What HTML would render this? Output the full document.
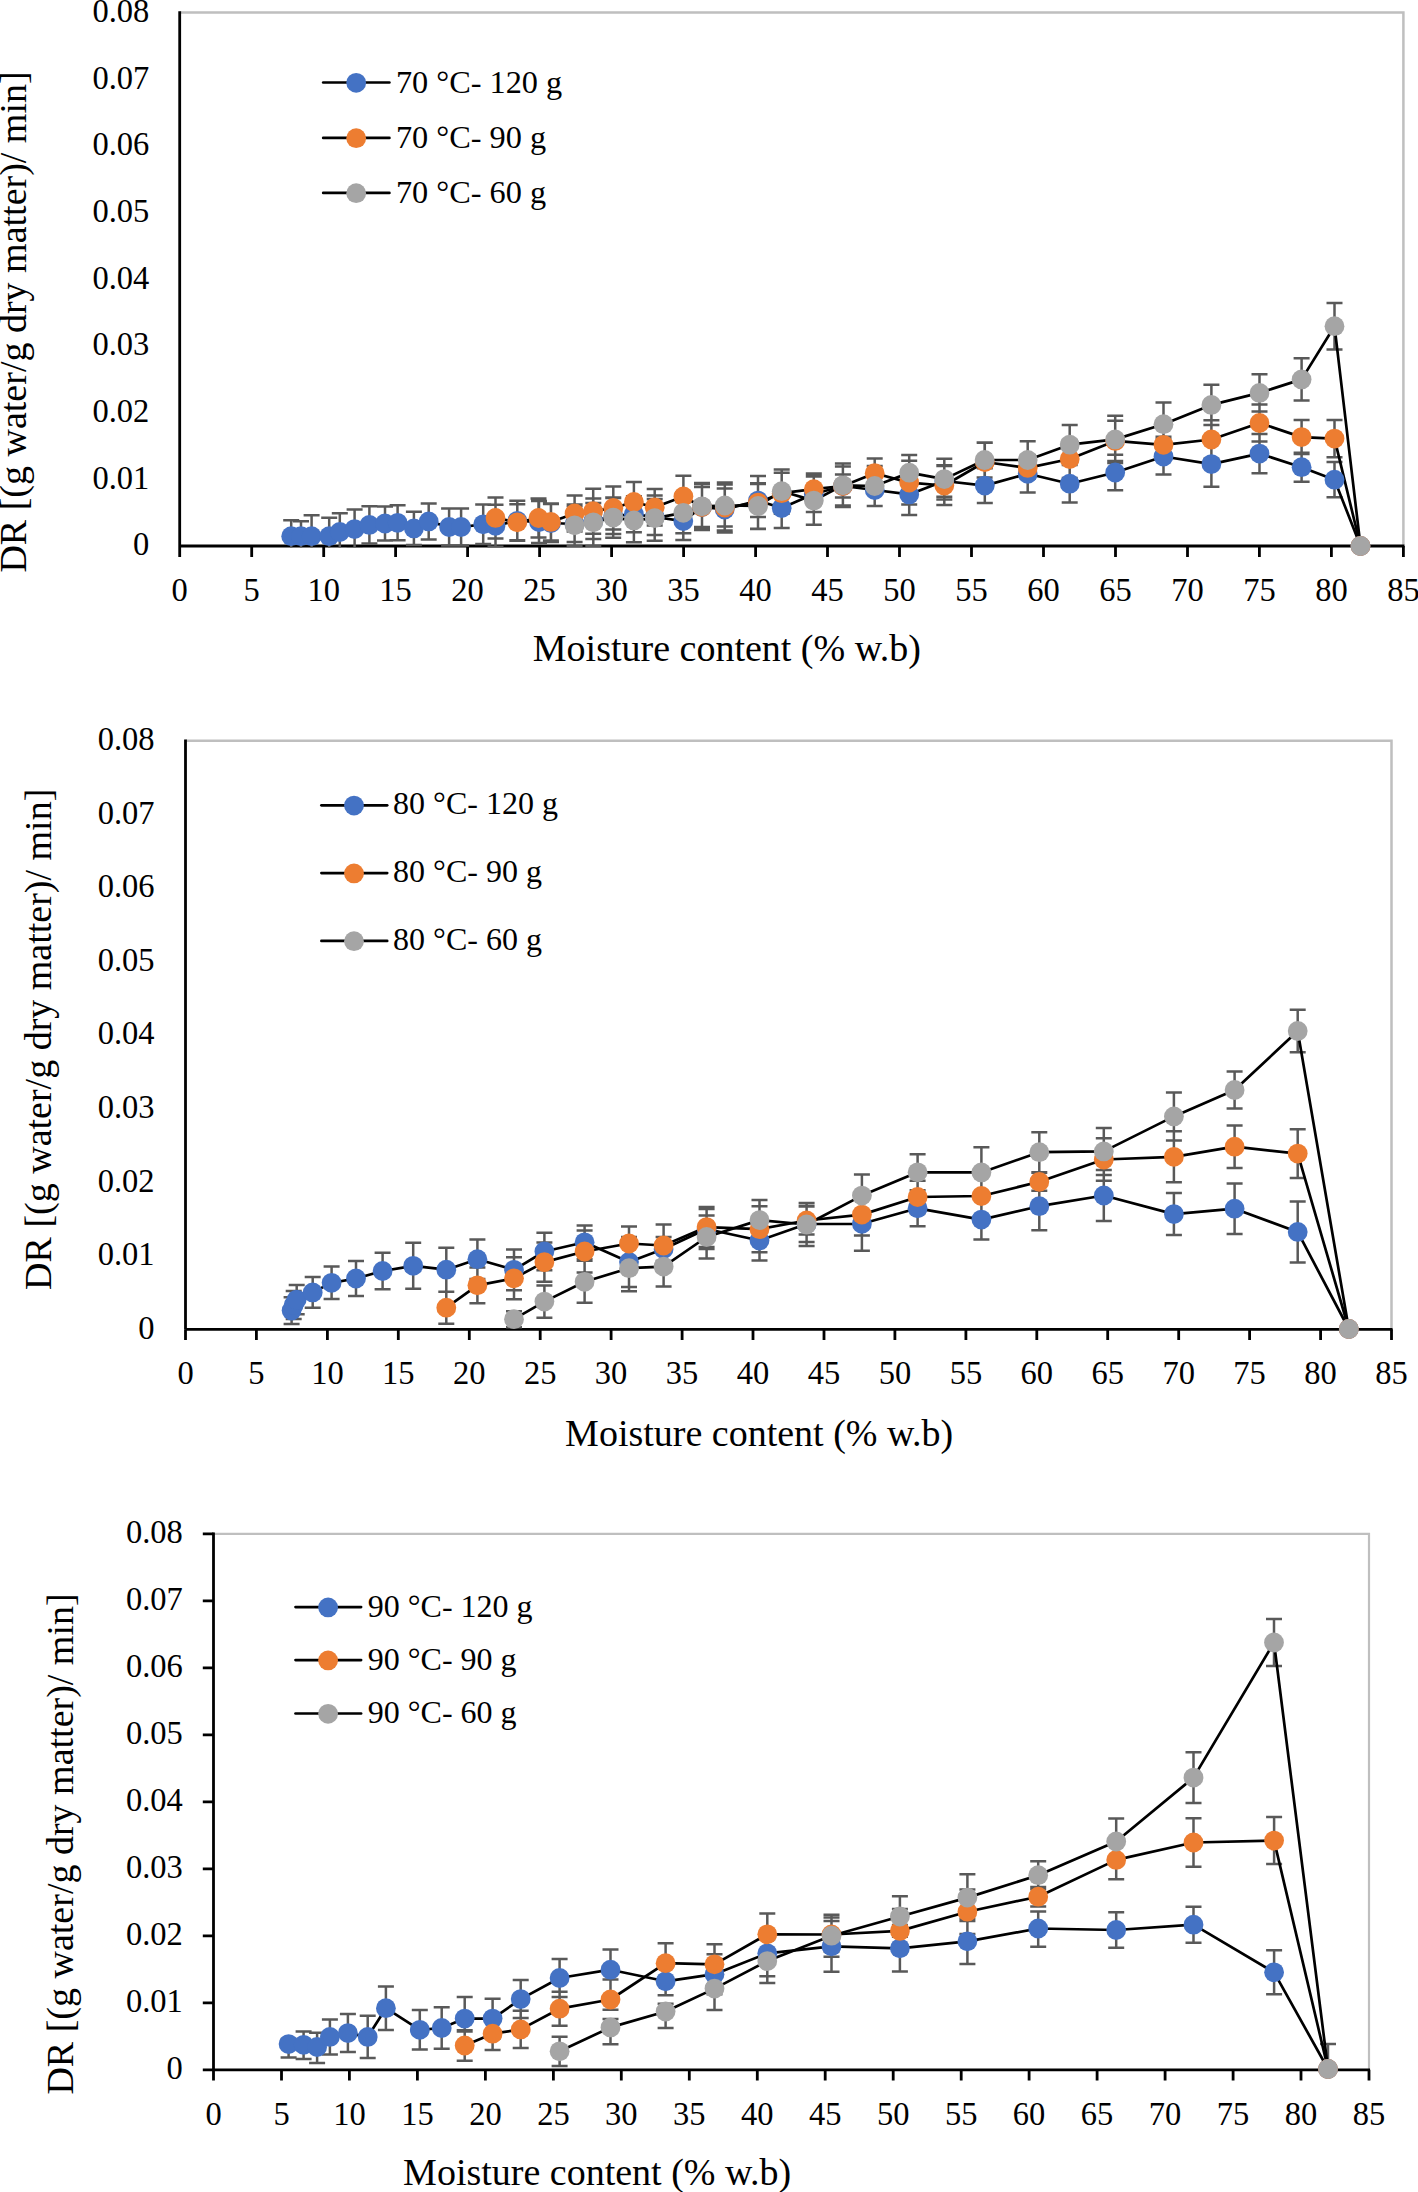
<!DOCTYPE html>
<html><head><meta charset="utf-8"><style>
html,body{margin:0;padding:0;background:#fff;}
svg{display:block;}
text{font-family:'Liberation Serif', serif;fill:#000;}
</style></head><body>
<svg width="1418" height="2192" viewBox="0 0 1418 2192">
<rect width="1418" height="2192" fill="#fff"/>
<path d="M179.7,12.5 H1403.4 V546.0" fill="none" stroke="#bfbfbf" stroke-width="2.5"/>
<path d="M179.7,11.3 V546.0" stroke="#000" stroke-width="2.8" fill="none"/>
<path d="M179.7,546.0 H1404.4" stroke="#000" stroke-width="2.8" fill="none"/>
<path d="M179.7,546.0v11M251.7,546.0v11M323.7,546.0v11M395.6,546.0v11M467.6,546.0v11M539.6,546.0v11M611.6,546.0v11M683.6,546.0v11M755.6,546.0v11M827.5,546.0v11M899.5,546.0v11M971.5,546.0v11M1043.5,546.0v11M1115.5,546.0v11M1187.5,546.0v11M1259.4,546.0v11M1331.4,546.0v11M1403.4,546.0v11" stroke="#000" stroke-width="2.8" fill="none"/>
<clipPath id="c1clip"><rect x="179.7" y="12.5" width="1223.7" height="534.9"/></clipPath>
<path clip-path="url(#c1clip)" d="M291.2,520.2V552.2M283.2,520.2h16M283.2,552.2h16M301.0,521.2V551.2M293.0,521.2h16M293.0,551.2h16M311.6,515.2V557.2M303.6,515.2h16M303.6,557.2h16M329.2,517.8V554.6M321.2,517.8h16M321.2,554.6h16M339.8,513.3V550.7M331.8,513.3h16M331.8,550.7h16M354.6,509.6V548.6M346.6,509.6h16M346.6,548.6h16M369.4,506.2V543.6M361.4,506.2h16M361.4,543.6h16M385.0,506.5V540.5M377.0,506.5h16M377.0,540.5h16M397.6,505.3V540.3M389.6,505.3h16M389.6,540.3h16M413.9,511.7V545.1M405.9,511.7h16M405.9,545.1h16M428.7,503.4V539.4M420.7,503.4h16M420.7,539.4h16M449.1,508.4V545.6M441.1,508.4h16M441.1,545.6h16M461.1,508.4V545.6M453.1,508.4h16M453.1,545.6h16M483.2,504.5V544.1M475.2,504.5h16M475.2,544.1h16M495.5,504.8V546.8M487.5,504.8h16M487.5,546.8h16M517.3,500.8V540.8M509.3,500.8h16M509.3,540.8h16M539.0,501.0V543.0M531.0,501.0h16M531.0,543.0h16M551.0,504.0V542.0M543.0,504.0h16M543.0,542.0h16M574.6,506.0V542.0M566.6,506.0h16M566.6,542.0h16M593.3,503.0V539.0M585.3,503.0h16M585.3,539.0h16M613.3,498.0V534.0M605.3,498.0h16M605.3,534.0h16M633.9,496.2V532.2M625.9,496.2h16M625.9,532.2h16M654.7,499.0V535.0M646.7,499.0h16M646.7,535.0h16M683.3,502.1V540.1M675.3,502.1h16M675.3,540.1h16M702.0,487.0V527.0M694.0,487.0h16M694.0,527.0h16M724.7,488.5V530.5M716.7,488.5h16M716.7,530.5h16M758.0,484.1V517.1M750.0,484.1h16M750.0,517.1h16M781.7,488.0V528.0M773.7,488.0h16M773.7,528.0h16M813.8,476.0V512.0M805.8,476.0h16M805.8,512.0h16M842.9,474.5V497.5M834.9,474.5h16M834.9,497.5h16M874.7,474.0V506.0M866.7,474.0h16M866.7,506.0h16M909.2,473.7V515.1M901.2,473.7h16M901.2,515.1h16M944.3,465.2V496.8M936.3,465.2h16M936.3,496.8h16M984.8,468.3V502.9M976.8,468.3h16M976.8,502.9h16M1027.7,455.1V492.5M1019.7,455.1h16M1019.7,492.5h16M1069.7,465.0V502.4M1061.7,465.0h16M1061.7,502.4h16M1115.2,454.7V490.3M1107.2,454.7h16M1107.2,490.3h16M1163.5,438.5V474.5M1155.5,438.5h16M1155.5,474.5h16M1211.4,441.4V486.8M1203.4,441.4h16M1203.4,486.8h16M1259.5,434.0V473.2M1251.5,434.0h16M1251.5,473.2h16M1301.6,452.7V481.7M1293.6,452.7h16M1293.6,481.7h16M1334.5,462.1V497.3M1326.5,462.1h16M1326.5,497.3h16M495.5,497.4V538.4M487.5,497.4h16M487.5,538.4h16M517.3,504.3V540.3M509.3,504.3h16M509.3,540.3h16M538.5,498.5V537.5M530.5,498.5h16M530.5,537.5h16M550.9,503.4V540.4M542.9,503.4h16M542.9,540.4h16M574.6,495.4V531.4M566.6,495.4h16M566.6,531.4h16M593.2,488.7V533.7M585.2,488.7h16M585.2,533.7h16M613.3,486.5V529.5M605.3,486.5h16M605.3,529.5h16M633.9,482.0V522.0M625.9,482.0h16M625.9,522.0h16M654.7,489.0V525.6M646.7,489.0h16M646.7,525.6h16M683.4,475.7V517.1M675.4,475.7h16M675.4,517.1h16M702.0,484.0V530.0M694.0,484.0h16M694.0,530.0h16M724.8,482.5V532.5M716.8,482.5h16M716.8,532.5h16M758.0,476.1V529.1M750.0,476.1h16M750.0,529.1h16M781.7,472.7V513.7M773.7,472.7h16M773.7,513.7h16M813.8,473.4V505.0M805.8,473.4h16M805.8,505.0h16M842.9,466.5V505.5M834.9,466.5h16M834.9,505.5h16M874.7,458.4V488.0M866.7,458.4h16M866.7,488.0h16M909.2,460.8V504.4M901.2,460.8h16M901.2,504.4h16M944.3,466.0V505.0M936.3,466.0h16M936.3,505.0h16M984.8,442.7V481.3M976.8,442.7h16M976.8,481.3h16M1027.7,457.9V477.9M1019.7,457.9h16M1019.7,477.9h16M1069.7,440.0V478.0M1061.7,440.0h16M1061.7,478.0h16M1115.2,420.7V461.1M1107.2,420.7h16M1107.2,461.1h16M1163.5,436.8V452.8M1155.5,436.8h16M1155.5,452.8h16M1211.4,420.2V458.8M1203.4,420.2h16M1203.4,458.8h16M1259.5,404.4V441.6M1251.5,404.4h16M1251.5,441.6h16M1301.6,420.1V454.1M1293.6,420.1h16M1293.6,454.1h16M1334.5,420.0V457.2M1326.5,420.0h16M1326.5,457.2h16M574.6,504.5V546.1M566.6,504.5h16M566.6,546.1h16M593.3,498.6V546.0M585.3,498.6h16M585.3,546.0h16M613.2,497.4V537.8M605.2,497.4h16M605.2,537.8h16M633.9,498.5V542.3M625.9,498.5h16M625.9,542.3h16M654.7,495.4V540.8M646.7,495.4h16M646.7,540.8h16M683.3,492.3V533.3M675.3,492.3h16M675.3,533.3h16M702.0,483.0V529.6M694.0,483.0h16M694.0,529.6h16M724.8,484.5V526.5M716.8,484.5h16M716.8,526.5h16M758.0,483.3V528.7M750.0,483.3h16M750.0,528.7h16M781.7,469.5V512.9M773.7,469.5h16M773.7,512.9h16M813.8,476.4V524.8M805.8,476.4h16M805.8,524.8h16M842.9,463.6V507.0M834.9,463.6h16M834.9,507.0h16M874.7,466.0V506.0M866.7,466.0h16M866.7,506.0h16M909.2,454.9V490.5M901.2,454.9h16M901.2,490.5h16M944.3,458.7V499.5M936.3,458.7h16M936.3,499.5h16M984.6,442.6V477.4M976.6,442.6h16M976.6,477.4h16M1027.7,441.2V478.8M1019.7,441.2h16M1019.7,478.8h16M1069.7,424.9V464.5M1061.7,424.9h16M1061.7,464.5h16M1115.2,415.8V463.0M1107.2,415.8h16M1107.2,463.0h16M1163.5,402.6V445.8M1155.5,402.6h16M1155.5,445.8h16M1211.4,384.7V425.1M1203.4,384.7h16M1203.4,425.1h16M1259.5,374.3V411.5M1251.5,374.3h16M1251.5,411.5h16M1301.6,358.3V400.5M1293.6,358.3h16M1293.6,400.5h16M1334.5,302.9V349.5M1326.5,302.9h16M1326.5,349.5h16" fill="none" stroke="#595959" stroke-width="2.5"/>
<polyline points="291.2,536.2 301.0,536.2 311.6,536.2 329.2,536.2 339.8,532.0 354.6,529.1 369.4,524.9 385.0,523.5 397.6,522.8 413.9,528.4 428.7,521.4 449.1,527.0 461.1,527.0 483.2,524.3 495.5,525.8 517.3,520.8 539.0,522.0 551.0,523.0 574.6,524.0 593.3,521.0 613.3,516.0 633.9,514.2 654.7,517.0 683.3,521.1 702.0,507.0 724.7,509.5 758.0,500.6 781.7,508.0 813.8,494.0 842.9,486.0 874.7,490.0 909.2,494.4 944.3,481.0 984.8,485.6 1027.7,473.8 1069.7,483.7 1115.2,472.5 1163.5,456.5 1211.4,464.1 1259.5,453.6 1301.6,467.2 1334.5,479.7 1360.5,546.0" fill="none" stroke="#000" stroke-width="2.7" stroke-linejoin="round" stroke-linecap="round"/>
<polyline points="495.5,517.9 517.3,522.3 538.5,518.0 550.9,521.9 574.6,513.4 593.2,511.2 613.3,508.0 633.9,502.0 654.7,507.3 683.4,496.4 702.0,507.0 724.8,507.5 758.0,502.6 781.7,493.2 813.8,489.2 842.9,486.0 874.7,473.2 909.2,482.6 944.3,485.5 984.8,462.0 1027.7,467.9 1069.7,459.0 1115.2,440.9 1163.5,444.8 1211.4,439.5 1259.5,423.0 1301.6,437.1 1334.5,438.6 1360.5,546.0" fill="none" stroke="#000" stroke-width="2.7" stroke-linejoin="round" stroke-linecap="round"/>
<polyline points="574.6,525.3 593.3,522.3 613.2,517.6 633.9,520.4 654.7,518.1 683.3,512.8 702.0,506.3 724.8,505.5 758.0,506.0 781.7,491.2 813.8,500.6 842.9,485.3 874.7,486.0 909.2,472.7 944.3,479.1 984.6,460.0 1027.7,460.0 1069.7,444.7 1115.2,439.4 1163.5,424.2 1211.4,404.9 1259.5,392.9 1301.6,379.4 1334.5,326.2 1360.5,546.0" fill="none" stroke="#000" stroke-width="2.7" stroke-linejoin="round" stroke-linecap="round"/>
<g fill="#4472c4"><circle cx="291.2" cy="536.2" r="9.9"/><circle cx="301.0" cy="536.2" r="9.9"/><circle cx="311.6" cy="536.2" r="9.9"/><circle cx="329.2" cy="536.2" r="9.9"/><circle cx="339.8" cy="532.0" r="9.9"/><circle cx="354.6" cy="529.1" r="9.9"/><circle cx="369.4" cy="524.9" r="9.9"/><circle cx="385.0" cy="523.5" r="9.9"/><circle cx="397.6" cy="522.8" r="9.9"/><circle cx="413.9" cy="528.4" r="9.9"/><circle cx="428.7" cy="521.4" r="9.9"/><circle cx="449.1" cy="527.0" r="9.9"/><circle cx="461.1" cy="527.0" r="9.9"/><circle cx="483.2" cy="524.3" r="9.9"/><circle cx="495.5" cy="525.8" r="9.9"/><circle cx="517.3" cy="520.8" r="9.9"/><circle cx="539.0" cy="522.0" r="9.9"/><circle cx="551.0" cy="523.0" r="9.9"/><circle cx="574.6" cy="524.0" r="9.9"/><circle cx="593.3" cy="521.0" r="9.9"/><circle cx="613.3" cy="516.0" r="9.9"/><circle cx="633.9" cy="514.2" r="9.9"/><circle cx="654.7" cy="517.0" r="9.9"/><circle cx="683.3" cy="521.1" r="9.9"/><circle cx="702.0" cy="507.0" r="9.9"/><circle cx="724.7" cy="509.5" r="9.9"/><circle cx="758.0" cy="500.6" r="9.9"/><circle cx="781.7" cy="508.0" r="9.9"/><circle cx="813.8" cy="494.0" r="9.9"/><circle cx="842.9" cy="486.0" r="9.9"/><circle cx="874.7" cy="490.0" r="9.9"/><circle cx="909.2" cy="494.4" r="9.9"/><circle cx="944.3" cy="481.0" r="9.9"/><circle cx="984.8" cy="485.6" r="9.9"/><circle cx="1027.7" cy="473.8" r="9.9"/><circle cx="1069.7" cy="483.7" r="9.9"/><circle cx="1115.2" cy="472.5" r="9.9"/><circle cx="1163.5" cy="456.5" r="9.9"/><circle cx="1211.4" cy="464.1" r="9.9"/><circle cx="1259.5" cy="453.6" r="9.9"/><circle cx="1301.6" cy="467.2" r="9.9"/><circle cx="1334.5" cy="479.7" r="9.9"/><circle cx="1360.5" cy="546.0" r="9.9"/></g>
<g fill="#ed7d31"><circle cx="495.5" cy="517.9" r="9.9"/><circle cx="517.3" cy="522.3" r="9.9"/><circle cx="538.5" cy="518.0" r="9.9"/><circle cx="550.9" cy="521.9" r="9.9"/><circle cx="574.6" cy="513.4" r="9.9"/><circle cx="593.2" cy="511.2" r="9.9"/><circle cx="613.3" cy="508.0" r="9.9"/><circle cx="633.9" cy="502.0" r="9.9"/><circle cx="654.7" cy="507.3" r="9.9"/><circle cx="683.4" cy="496.4" r="9.9"/><circle cx="702.0" cy="507.0" r="9.9"/><circle cx="724.8" cy="507.5" r="9.9"/><circle cx="758.0" cy="502.6" r="9.9"/><circle cx="781.7" cy="493.2" r="9.9"/><circle cx="813.8" cy="489.2" r="9.9"/><circle cx="842.9" cy="486.0" r="9.9"/><circle cx="874.7" cy="473.2" r="9.9"/><circle cx="909.2" cy="482.6" r="9.9"/><circle cx="944.3" cy="485.5" r="9.9"/><circle cx="984.8" cy="462.0" r="9.9"/><circle cx="1027.7" cy="467.9" r="9.9"/><circle cx="1069.7" cy="459.0" r="9.9"/><circle cx="1115.2" cy="440.9" r="9.9"/><circle cx="1163.5" cy="444.8" r="9.9"/><circle cx="1211.4" cy="439.5" r="9.9"/><circle cx="1259.5" cy="423.0" r="9.9"/><circle cx="1301.6" cy="437.1" r="9.9"/><circle cx="1334.5" cy="438.6" r="9.9"/><circle cx="1360.5" cy="546.0" r="9.9"/></g>
<g fill="#a5a5a5"><circle cx="574.6" cy="525.3" r="9.9"/><circle cx="593.3" cy="522.3" r="9.9"/><circle cx="613.2" cy="517.6" r="9.9"/><circle cx="633.9" cy="520.4" r="9.9"/><circle cx="654.7" cy="518.1" r="9.9"/><circle cx="683.3" cy="512.8" r="9.9"/><circle cx="702.0" cy="506.3" r="9.9"/><circle cx="724.8" cy="505.5" r="9.9"/><circle cx="758.0" cy="506.0" r="9.9"/><circle cx="781.7" cy="491.2" r="9.9"/><circle cx="813.8" cy="500.6" r="9.9"/><circle cx="842.9" cy="485.3" r="9.9"/><circle cx="874.7" cy="486.0" r="9.9"/><circle cx="909.2" cy="472.7" r="9.9"/><circle cx="944.3" cy="479.1" r="9.9"/><circle cx="984.6" cy="460.0" r="9.9"/><circle cx="1027.7" cy="460.0" r="9.9"/><circle cx="1069.7" cy="444.7" r="9.9"/><circle cx="1115.2" cy="439.4" r="9.9"/><circle cx="1163.5" cy="424.2" r="9.9"/><circle cx="1211.4" cy="404.9" r="9.9"/><circle cx="1259.5" cy="392.9" r="9.9"/><circle cx="1301.6" cy="379.4" r="9.9"/><circle cx="1334.5" cy="326.2" r="9.9"/><circle cx="1360.5" cy="546.0" r="9.9"/></g>
<text transform="translate(149.3,555.4) scale(1,1.05)" text-anchor="end" font-size="32.5">0</text>
<text transform="translate(149.3,488.7) scale(1,1.05)" text-anchor="end" font-size="32.5">0.01</text>
<text transform="translate(149.3,422.0) scale(1,1.05)" text-anchor="end" font-size="32.5">0.02</text>
<text transform="translate(149.3,355.3) scale(1,1.05)" text-anchor="end" font-size="32.5">0.03</text>
<text transform="translate(149.3,288.6) scale(1,1.05)" text-anchor="end" font-size="32.5">0.04</text>
<text transform="translate(149.3,222.0) scale(1,1.05)" text-anchor="end" font-size="32.5">0.05</text>
<text transform="translate(149.3,155.3) scale(1,1.05)" text-anchor="end" font-size="32.5">0.06</text>
<text transform="translate(149.3,88.6) scale(1,1.05)" text-anchor="end" font-size="32.5">0.07</text>
<text transform="translate(149.3,21.9) scale(1,1.05)" text-anchor="end" font-size="32.5">0.08</text>
<text transform="translate(179.7,601.0) scale(1,1.05)" text-anchor="middle" font-size="32.5">0</text>
<text transform="translate(251.7,601.0) scale(1,1.05)" text-anchor="middle" font-size="32.5">5</text>
<text transform="translate(323.7,601.0) scale(1,1.05)" text-anchor="middle" font-size="32.5">10</text>
<text transform="translate(395.6,601.0) scale(1,1.05)" text-anchor="middle" font-size="32.5">15</text>
<text transform="translate(467.6,601.0) scale(1,1.05)" text-anchor="middle" font-size="32.5">20</text>
<text transform="translate(539.6,601.0) scale(1,1.05)" text-anchor="middle" font-size="32.5">25</text>
<text transform="translate(611.6,601.0) scale(1,1.05)" text-anchor="middle" font-size="32.5">30</text>
<text transform="translate(683.6,601.0) scale(1,1.05)" text-anchor="middle" font-size="32.5">35</text>
<text transform="translate(755.6,601.0) scale(1,1.05)" text-anchor="middle" font-size="32.5">40</text>
<text transform="translate(827.5,601.0) scale(1,1.05)" text-anchor="middle" font-size="32.5">45</text>
<text transform="translate(899.5,601.0) scale(1,1.05)" text-anchor="middle" font-size="32.5">50</text>
<text transform="translate(971.5,601.0) scale(1,1.05)" text-anchor="middle" font-size="32.5">55</text>
<text transform="translate(1043.5,601.0) scale(1,1.05)" text-anchor="middle" font-size="32.5">60</text>
<text transform="translate(1115.5,601.0) scale(1,1.05)" text-anchor="middle" font-size="32.5">65</text>
<text transform="translate(1187.5,601.0) scale(1,1.05)" text-anchor="middle" font-size="32.5">70</text>
<text transform="translate(1259.4,601.0) scale(1,1.05)" text-anchor="middle" font-size="32.5">75</text>
<text transform="translate(1331.4,601.0) scale(1,1.05)" text-anchor="middle" font-size="32.5">80</text>
<text transform="translate(1403.4,601.0) scale(1,1.05)" text-anchor="middle" font-size="32.5">85</text>
<text x="532.8" y="661.0" font-size="38">Moisture content (% w.b)</text>
<text transform="translate(25.5,572.6) rotate(-90)" font-size="38">DR [(g water/g dry matter)/ min]</text>
<path d="M323.2,82.5H389.4" stroke="#000" stroke-width="2.7" stroke-linecap="round"/>
<circle cx="356.2" cy="82.8" r="9.9" fill="#4472c4"/>
<text x="395.9" y="92.6" font-size="32.3">70 °C- 120 g</text>
<path d="M323.2,137.9H389.4" stroke="#000" stroke-width="2.7" stroke-linecap="round"/>
<circle cx="356.2" cy="138.2" r="9.9" fill="#ed7d31"/>
<text x="395.9" y="148.0" font-size="32.3">70 °C- 90 g</text>
<path d="M323.2,192.9H389.4" stroke="#000" stroke-width="2.7" stroke-linecap="round"/>
<circle cx="356.2" cy="193.2" r="9.9" fill="#a5a5a5"/>
<text x="395.9" y="203.0" font-size="32.3">70 °C- 60 g</text>
<path d="M185.5,740.7 H1391.5 V1329.3" fill="none" stroke="#bfbfbf" stroke-width="2.5"/>
<path d="M185.5,739.5 V1329.3" stroke="#000" stroke-width="2.8" fill="none"/>
<path d="M185.5,1329.3 H1392.5" stroke="#000" stroke-width="2.8" fill="none"/>
<path d="M185.5,1329.3v10.7M256.4,1329.3v10.7M327.4,1329.3v10.7M398.3,1329.3v10.7M469.3,1329.3v10.7M540.2,1329.3v10.7M611.1,1329.3v10.7M682.1,1329.3v10.7M753.0,1329.3v10.7M824.0,1329.3v10.7M894.9,1329.3v10.7M965.9,1329.3v10.7M1036.8,1329.3v10.7M1107.7,1329.3v10.7M1178.7,1329.3v10.7M1249.6,1329.3v10.7M1320.6,1329.3v10.7M1391.5,1329.3v10.7" stroke="#000" stroke-width="2.8" fill="none"/>
<clipPath id="c2clip"><rect x="185.5" y="740.7" width="1206.0" height="590.0"/></clipPath>
<path clip-path="url(#c2clip)" d="M291.6,1297.3V1323.9M283.6,1297.3h16M283.6,1323.9h16M293.7,1291.1V1319.1M285.7,1291.1h16M285.7,1319.1h16M296.7,1284.9V1314.3M288.7,1284.9h16M288.7,1314.3h16M312.7,1277.0V1307.8M304.7,1277.0h16M304.7,1307.8h16M331.6,1266.5V1299.1M323.6,1266.5h16M323.6,1299.1h16M356.0,1261.0V1296.0M348.0,1261.0h16M348.0,1296.0h16M382.6,1252.8V1289.2M374.6,1252.8h16M374.6,1289.2h16M413.2,1242.8V1288.8M405.2,1242.8h16M405.2,1288.8h16M446.3,1247.7V1291.7M438.3,1247.7h16M438.3,1291.7h16M477.4,1239.5V1278.9M469.4,1239.5h16M469.4,1278.9h16M514.0,1249.4V1290.2M506.0,1249.4h16M506.0,1290.2h16M544.4,1232.7V1270.3M536.4,1232.7h16M536.4,1270.3h16M584.6,1225.4V1259.2M576.6,1225.4h16M576.6,1259.2h16M629.0,1236.9V1286.9M621.0,1236.9h16M621.0,1286.9h16M663.6,1237.0V1261.0M655.6,1237.0h16M655.6,1261.0h16M706.6,1209.0V1249.0M698.6,1209.0h16M698.6,1249.0h16M759.5,1220.5V1260.5M751.5,1220.5h16M751.5,1260.5h16M806.6,1206.0V1242.0M798.6,1206.0h16M798.6,1242.0h16M861.9,1196.8V1250.8M853.9,1196.8h16M853.9,1250.8h16M917.6,1190.3V1226.3M909.6,1190.3h16M909.6,1226.3h16M981.4,1199.6V1239.6M973.4,1199.6h16M973.4,1239.6h16M1039.3,1182.2V1230.2M1031.3,1182.2h16M1031.3,1230.2h16M1103.8,1170.1V1220.9M1095.8,1170.1h16M1095.8,1220.9h16M1173.9,1193.1V1235.1M1165.9,1193.1h16M1165.9,1235.1h16M1234.6,1183.5V1233.9M1226.6,1183.5h16M1226.6,1233.9h16M1297.7,1201.4V1262.4M1289.7,1201.4h16M1289.7,1262.4h16M446.3,1291.7V1323.7M438.3,1291.7h16M438.3,1323.7h16M477.4,1267.4V1303.2M469.4,1267.4h16M469.4,1303.2h16M514.0,1257.3V1299.3M506.0,1257.3h16M506.0,1299.3h16M544.4,1242.4V1281.8M536.4,1242.4h16M536.4,1281.8h16M584.6,1230.4V1272.6M576.6,1230.4h16M576.6,1272.6h16M629.0,1226.5V1260.5M621.0,1226.5h16M621.0,1260.5h16M663.6,1224.5V1266.5M655.6,1224.5h16M655.6,1266.5h16M706.6,1207.1V1247.1M698.6,1207.1h16M698.6,1247.1h16M759.5,1206.2V1252.2M751.5,1206.2h16M751.5,1252.2h16M806.6,1206.5V1234.5M798.6,1206.5h16M798.6,1234.5h16M861.9,1193.6V1235.6M853.9,1193.6h16M853.9,1235.6h16M917.6,1180.8V1213.2M909.6,1180.8h16M909.6,1213.2h16M981.4,1176.0V1216.0M973.4,1176.0h16M973.4,1216.0h16M1039.3,1172.8V1190.8M1031.3,1172.8h16M1031.3,1190.8h16M1103.8,1138.3V1180.7M1095.8,1138.3h16M1095.8,1180.7h16M1173.9,1131.3V1182.3M1165.9,1131.3h16M1165.9,1182.3h16M1234.6,1125.4V1168.0M1226.6,1125.4h16M1226.6,1168.0h16M1297.7,1129.2V1178.0M1289.7,1129.2h16M1289.7,1178.0h16M514.0,1311.2V1327.2M506.0,1311.2h16M506.0,1327.2h16M544.4,1285.4V1317.8M536.4,1285.4h16M536.4,1317.8h16M584.6,1260.8V1302.8M576.6,1260.8h16M576.6,1302.8h16M629.0,1245.2V1291.2M621.0,1245.2h16M621.0,1291.2h16M663.6,1246.6V1286.6M655.6,1246.6h16M655.6,1286.6h16M706.6,1215.5V1258.5M698.6,1215.5h16M698.6,1258.5h16M759.5,1200.1V1240.1M751.5,1200.1h16M751.5,1240.1h16M806.6,1203.0V1246.0M798.6,1203.0h16M798.6,1246.0h16M861.9,1174.6V1216.6M853.9,1174.6h16M853.9,1216.6h16M917.6,1154.3V1190.3M909.6,1154.3h16M909.6,1190.3h16M981.4,1147.2V1197.6M973.4,1147.2h16M973.4,1197.6h16M1039.3,1132.2V1172.2M1031.3,1132.2h16M1031.3,1172.2h16M1103.8,1127.9V1174.9M1095.8,1127.9h16M1095.8,1174.9h16M1173.9,1092.4V1140.4M1165.9,1092.4h16M1165.9,1140.4h16M1234.6,1071.5V1108.5M1226.6,1071.5h16M1226.6,1108.5h16M1297.7,1009.7V1052.3M1289.7,1009.7h16M1289.7,1052.3h16" fill="none" stroke="#595959" stroke-width="2.5"/>
<polyline points="291.6,1310.6 293.7,1305.1 296.7,1299.6 312.7,1292.4 331.6,1282.8 356.0,1278.5 382.6,1271.0 413.2,1265.8 446.3,1269.7 477.4,1259.2 514.0,1269.8 544.4,1251.5 584.6,1242.3 629.0,1261.9 663.6,1249.0 706.6,1229.0 759.5,1240.5 806.6,1224.0 861.9,1223.8 917.6,1208.3 981.4,1219.6 1039.3,1206.2 1103.8,1195.5 1173.9,1214.1 1234.6,1208.7 1297.7,1231.9 1348.8,1329.0" fill="none" stroke="#000" stroke-width="2.7" stroke-linejoin="round" stroke-linecap="round"/>
<polyline points="446.3,1307.7 477.4,1285.3 514.0,1278.3 544.4,1262.1 584.6,1251.5 629.0,1243.5 663.6,1245.5 706.6,1227.1 759.5,1229.2 806.6,1220.5 861.9,1214.6 917.6,1197.0 981.4,1196.0 1039.3,1181.8 1103.8,1159.5 1173.9,1156.8 1234.6,1146.7 1297.7,1153.6 1348.8,1329.0" fill="none" stroke="#000" stroke-width="2.7" stroke-linejoin="round" stroke-linecap="round"/>
<polyline points="514.0,1319.2 544.4,1301.6 584.6,1281.8 629.0,1268.2 663.6,1266.6 706.6,1237.0 759.5,1220.1 806.6,1224.5 861.9,1195.6 917.6,1172.3 981.4,1172.4 1039.3,1152.2 1103.8,1151.4 1173.9,1116.4 1234.6,1090.0 1297.7,1031.0 1348.8,1329.0" fill="none" stroke="#000" stroke-width="2.7" stroke-linejoin="round" stroke-linecap="round"/>
<g fill="#4472c4"><circle cx="291.6" cy="1310.6" r="9.9"/><circle cx="293.7" cy="1305.1" r="9.9"/><circle cx="296.7" cy="1299.6" r="9.9"/><circle cx="312.7" cy="1292.4" r="9.9"/><circle cx="331.6" cy="1282.8" r="9.9"/><circle cx="356.0" cy="1278.5" r="9.9"/><circle cx="382.6" cy="1271.0" r="9.9"/><circle cx="413.2" cy="1265.8" r="9.9"/><circle cx="446.3" cy="1269.7" r="9.9"/><circle cx="477.4" cy="1259.2" r="9.9"/><circle cx="514.0" cy="1269.8" r="9.9"/><circle cx="544.4" cy="1251.5" r="9.9"/><circle cx="584.6" cy="1242.3" r="9.9"/><circle cx="629.0" cy="1261.9" r="9.9"/><circle cx="663.6" cy="1249.0" r="9.9"/><circle cx="706.6" cy="1229.0" r="9.9"/><circle cx="759.5" cy="1240.5" r="9.9"/><circle cx="806.6" cy="1224.0" r="9.9"/><circle cx="861.9" cy="1223.8" r="9.9"/><circle cx="917.6" cy="1208.3" r="9.9"/><circle cx="981.4" cy="1219.6" r="9.9"/><circle cx="1039.3" cy="1206.2" r="9.9"/><circle cx="1103.8" cy="1195.5" r="9.9"/><circle cx="1173.9" cy="1214.1" r="9.9"/><circle cx="1234.6" cy="1208.7" r="9.9"/><circle cx="1297.7" cy="1231.9" r="9.9"/><circle cx="1348.8" cy="1329.0" r="9.9"/></g>
<g fill="#ed7d31"><circle cx="446.3" cy="1307.7" r="9.9"/><circle cx="477.4" cy="1285.3" r="9.9"/><circle cx="514.0" cy="1278.3" r="9.9"/><circle cx="544.4" cy="1262.1" r="9.9"/><circle cx="584.6" cy="1251.5" r="9.9"/><circle cx="629.0" cy="1243.5" r="9.9"/><circle cx="663.6" cy="1245.5" r="9.9"/><circle cx="706.6" cy="1227.1" r="9.9"/><circle cx="759.5" cy="1229.2" r="9.9"/><circle cx="806.6" cy="1220.5" r="9.9"/><circle cx="861.9" cy="1214.6" r="9.9"/><circle cx="917.6" cy="1197.0" r="9.9"/><circle cx="981.4" cy="1196.0" r="9.9"/><circle cx="1039.3" cy="1181.8" r="9.9"/><circle cx="1103.8" cy="1159.5" r="9.9"/><circle cx="1173.9" cy="1156.8" r="9.9"/><circle cx="1234.6" cy="1146.7" r="9.9"/><circle cx="1297.7" cy="1153.6" r="9.9"/><circle cx="1348.8" cy="1329.0" r="9.9"/></g>
<g fill="#a5a5a5"><circle cx="514.0" cy="1319.2" r="9.9"/><circle cx="544.4" cy="1301.6" r="9.9"/><circle cx="584.6" cy="1281.8" r="9.9"/><circle cx="629.0" cy="1268.2" r="9.9"/><circle cx="663.6" cy="1266.6" r="9.9"/><circle cx="706.6" cy="1237.0" r="9.9"/><circle cx="759.5" cy="1220.1" r="9.9"/><circle cx="806.6" cy="1224.5" r="9.9"/><circle cx="861.9" cy="1195.6" r="9.9"/><circle cx="917.6" cy="1172.3" r="9.9"/><circle cx="981.4" cy="1172.4" r="9.9"/><circle cx="1039.3" cy="1152.2" r="9.9"/><circle cx="1103.8" cy="1151.4" r="9.9"/><circle cx="1173.9" cy="1116.4" r="9.9"/><circle cx="1234.6" cy="1090.0" r="9.9"/><circle cx="1297.7" cy="1031.0" r="9.9"/><circle cx="1348.8" cy="1329.0" r="9.9"/></g>
<text transform="translate(154.6,1338.7) scale(1,1.05)" text-anchor="end" font-size="32.5">0</text>
<text transform="translate(154.6,1265.1) scale(1,1.05)" text-anchor="end" font-size="32.5">0.01</text>
<text transform="translate(154.6,1191.6) scale(1,1.05)" text-anchor="end" font-size="32.5">0.02</text>
<text transform="translate(154.6,1118.0) scale(1,1.05)" text-anchor="end" font-size="32.5">0.03</text>
<text transform="translate(154.6,1044.4) scale(1,1.05)" text-anchor="end" font-size="32.5">0.04</text>
<text transform="translate(154.6,970.8) scale(1,1.05)" text-anchor="end" font-size="32.5">0.05</text>
<text transform="translate(154.6,897.2) scale(1,1.05)" text-anchor="end" font-size="32.5">0.06</text>
<text transform="translate(154.6,823.7) scale(1,1.05)" text-anchor="end" font-size="32.5">0.07</text>
<text transform="translate(154.6,750.1) scale(1,1.05)" text-anchor="end" font-size="32.5">0.08</text>
<text transform="translate(185.5,1383.8) scale(1,1.05)" text-anchor="middle" font-size="32.5">0</text>
<text transform="translate(256.4,1383.8) scale(1,1.05)" text-anchor="middle" font-size="32.5">5</text>
<text transform="translate(327.4,1383.8) scale(1,1.05)" text-anchor="middle" font-size="32.5">10</text>
<text transform="translate(398.3,1383.8) scale(1,1.05)" text-anchor="middle" font-size="32.5">15</text>
<text transform="translate(469.3,1383.8) scale(1,1.05)" text-anchor="middle" font-size="32.5">20</text>
<text transform="translate(540.2,1383.8) scale(1,1.05)" text-anchor="middle" font-size="32.5">25</text>
<text transform="translate(611.1,1383.8) scale(1,1.05)" text-anchor="middle" font-size="32.5">30</text>
<text transform="translate(682.1,1383.8) scale(1,1.05)" text-anchor="middle" font-size="32.5">35</text>
<text transform="translate(753.0,1383.8) scale(1,1.05)" text-anchor="middle" font-size="32.5">40</text>
<text transform="translate(824.0,1383.8) scale(1,1.05)" text-anchor="middle" font-size="32.5">45</text>
<text transform="translate(894.9,1383.8) scale(1,1.05)" text-anchor="middle" font-size="32.5">50</text>
<text transform="translate(965.9,1383.8) scale(1,1.05)" text-anchor="middle" font-size="32.5">55</text>
<text transform="translate(1036.8,1383.8) scale(1,1.05)" text-anchor="middle" font-size="32.5">60</text>
<text transform="translate(1107.7,1383.8) scale(1,1.05)" text-anchor="middle" font-size="32.5">65</text>
<text transform="translate(1178.7,1383.8) scale(1,1.05)" text-anchor="middle" font-size="32.5">70</text>
<text transform="translate(1249.6,1383.8) scale(1,1.05)" text-anchor="middle" font-size="32.5">75</text>
<text transform="translate(1320.6,1383.8) scale(1,1.05)" text-anchor="middle" font-size="32.5">80</text>
<text transform="translate(1391.5,1383.8) scale(1,1.05)" text-anchor="middle" font-size="32.5">85</text>
<text x="565.1" y="1445.6" font-size="38">Moisture content (% w.b)</text>
<text transform="translate(51.1,1289.9) rotate(-90)" font-size="38">DR [(g water/g dry matter)/ min]</text>
<path d="M321.4,805.3H387.2" stroke="#000" stroke-width="2.7" stroke-linecap="round"/>
<circle cx="354.0" cy="805.6" r="9.9" fill="#4472c4"/>
<text x="393.1" y="814.4" font-size="32">80 °C- 120 g</text>
<path d="M321.4,873.1H387.2" stroke="#000" stroke-width="2.7" stroke-linecap="round"/>
<circle cx="354.0" cy="873.4" r="9.9" fill="#ed7d31"/>
<text x="393.1" y="882.2" font-size="32">80 °C- 90 g</text>
<path d="M321.4,940.9H387.2" stroke="#000" stroke-width="2.7" stroke-linecap="round"/>
<circle cx="354.0" cy="941.2" r="9.9" fill="#a5a5a5"/>
<text x="393.1" y="950.0" font-size="32">80 °C- 60 g</text>
<path d="M213.5,1533.8 H1369.0 V2069.8" fill="none" stroke="#bfbfbf" stroke-width="2.2"/>
<path d="M213.5,1532.6 V2069.8" stroke="#000" stroke-width="2.8" fill="none"/>
<path d="M202.8,2069.8 H1370.0" stroke="#000" stroke-width="2.8" fill="none"/>
<path d="M213.5,2069.8v10.7M281.5,2069.8v10.7M349.4,2069.8v10.7M417.4,2069.8v10.7M485.4,2069.8v10.7M553.4,2069.8v10.7M621.3,2069.8v10.7M689.3,2069.8v10.7M757.3,2069.8v10.7M825.2,2069.8v10.7M893.2,2069.8v10.7M961.2,2069.8v10.7M1029.1,2069.8v10.7M1097.1,2069.8v10.7M1165.1,2069.8v10.7M1233.1,2069.8v10.7M1301.0,2069.8v10.7M1369.0,2069.8v10.7M213.5,2002.8h-10.7M213.5,1935.8h-10.7M213.5,1868.8h-10.7M213.5,1801.8h-10.7M213.5,1734.8h-10.7M213.5,1667.8h-10.7M213.5,1600.8h-10.7M213.5,1533.8h-10.7" stroke="#000" stroke-width="2.8" fill="none"/>
<clipPath id="c3clip"><rect x="213.5" y="1533.8" width="1155.5" height="537.4"/></clipPath>
<path clip-path="url(#c3clip)" d="M288.6,2039.1V2057.4M280.6,2039.1h16M280.6,2057.4h16M303.6,2031.5V2059.1M295.6,2031.5h16M295.6,2059.1h16M317.1,2032.8V2063.0M309.1,2032.8h16M309.1,2063.0h16M329.9,2019.4V2054.4M321.9,2019.4h16M321.9,2054.4h16M347.9,2014.1V2052.1M339.9,2014.1h16M339.9,2052.1h16M367.7,2015.7V2058.1M359.7,2015.7h16M359.7,2058.1h16M385.9,1986.5V2029.9M377.9,1986.5h16M377.9,2029.9h16M419.8,2010.1V2049.5M411.8,2010.1h16M411.8,2049.5h16M441.7,2007.2V2048.8M433.7,2007.2h16M433.7,2048.8h16M464.7,1997.0V2031.6M456.7,1997.0h16M456.7,2031.6h16M492.6,1998.8V2038.4M484.6,1998.8h16M484.6,2038.4h16M520.7,1980.1V2018.1M512.7,1980.1h16M512.7,2018.1h16M559.6,1959.0V1997.0M551.6,1959.0h16M551.6,1997.0h16M610.5,1949.5V1979.5M602.5,1949.5h16M602.5,1979.5h16M665.6,1967.3V1995.3M657.6,1967.3h16M657.6,1995.3h16M714.5,1954.2V1994.2M706.5,1954.2h16M706.5,1994.2h16M767.3,1930.3V1976.3M759.3,1930.3h16M759.3,1976.3h16M831.5,1920.9V1971.7M823.5,1920.9h16M823.5,1971.7h16M899.9,1925.0V1971.6M891.9,1925.0h16M891.9,1971.6h16M967.4,1918.7V1963.9M959.4,1918.7h16M959.4,1963.9h16M1038.2,1911.5V1946.8M1030.2,1911.5h16M1030.2,1946.8h16M1116.2,1912.3V1947.7M1108.2,1912.3h16M1108.2,1947.7h16M1193.5,1906.7V1942.7M1185.5,1906.7h16M1185.5,1942.7h16M1274.1,1950.3V1994.3M1266.1,1950.3h16M1266.1,1994.3h16M464.7,2030.3V2060.7M456.7,2030.3h16M456.7,2060.7h16M492.6,2017.5V2049.9M484.6,2017.5h16M484.6,2049.9h16M520.7,2010.7V2048.1M512.7,2010.7h16M512.7,2048.1h16M559.6,1991.7V2025.7M551.6,1991.7h16M551.6,2025.7h16M610.5,1979.5V2009.8M602.5,1979.5h16M602.5,2009.8h16M665.6,1943.2V1983.2M657.6,1943.2h16M657.6,1983.2h16M714.5,1944.3V1984.3M706.5,1944.3h16M706.5,1984.3h16M767.3,1913.6V1955.0M759.3,1913.6h16M759.3,1955.0h16M831.5,1917.5V1951.5M823.5,1917.5h16M823.5,1951.5h16M899.9,1908.9V1952.9M891.9,1908.9h16M891.9,1952.9h16M967.4,1889.5V1933.9M959.4,1889.5h16M959.4,1933.9h16M1038.2,1886.9V1906.5M1030.2,1886.9h16M1030.2,1906.5h16M1116.2,1840.6V1879.2M1108.2,1840.6h16M1108.2,1879.2h16M1193.5,1818.3V1866.7M1185.5,1818.3h16M1185.5,1866.7h16M1274.1,1817.1V1864.1M1266.1,1817.1h16M1266.1,1864.1h16M559.6,2036.7V2065.9M551.6,2036.7h16M551.6,2065.9h16M610.5,2018.9V2044.3M602.5,2018.9h16M602.5,2044.3h16M665.6,2003.8V2028.1M657.6,2003.8h16M657.6,2028.1h16M714.5,1967.2V2010.0M706.5,1967.2h16M706.5,2010.0h16M767.3,1939.2V1983.0M759.3,1939.2h16M759.3,1983.0h16M831.5,1914.7V1956.7M823.5,1914.7h16M823.5,1956.7h16M899.9,1896.2V1936.8M891.9,1896.2h16M891.9,1936.8h16M967.4,1874.3V1920.9M959.4,1874.3h16M959.4,1920.9h16M1038.2,1861.2V1889.2M1030.2,1861.2h16M1030.2,1889.2h16M1116.2,1818.5V1864.5M1108.2,1818.5h16M1108.2,1864.5h16M1193.5,1752.2V1803.0M1185.5,1752.2h16M1185.5,1803.0h16M1274.0,1618.9V1666.1M1266.0,1618.9h16M1266.0,1666.1h16M1328.0,2044.0V2094.0M1320.0,2044.0h16M1320.0,2094.0h16" fill="none" stroke="#595959" stroke-width="2.5"/>
<polyline points="288.6,2044.1 303.6,2044.8 317.1,2047.0 329.9,2036.9 347.9,2033.1 367.7,2036.9 385.9,2008.2 419.8,2029.8 441.7,2028.0 464.7,2018.6 492.6,2018.6 520.7,1999.1 559.6,1978.0 610.5,1969.7 665.6,1981.3 714.5,1974.2 767.3,1953.3 831.5,1946.3 899.9,1948.3 967.4,1941.3 1038.2,1928.5 1116.2,1930.0 1193.5,1924.7 1274.1,1972.3 1328.0,2069.0" fill="none" stroke="#000" stroke-width="2.7" stroke-linejoin="round" stroke-linecap="round"/>
<polyline points="464.7,2045.5 492.6,2033.7 520.7,2029.4 559.6,2008.7 610.5,1999.5 665.6,1963.2 714.5,1964.3 767.3,1934.3 831.5,1934.5 899.9,1930.9 967.4,1911.7 1038.2,1896.7 1116.2,1859.9 1193.5,1842.5 1274.1,1840.6 1328.0,2069.0" fill="none" stroke="#000" stroke-width="2.7" stroke-linejoin="round" stroke-linecap="round"/>
<polyline points="559.6,2051.3 610.5,2027.4 665.6,2011.5 714.5,1988.6 767.3,1961.1 831.5,1935.7 899.9,1916.5 967.4,1897.6 1038.2,1875.2 1116.2,1841.5 1193.5,1777.6 1274.0,1642.5 1328.0,2069.0" fill="none" stroke="#000" stroke-width="2.7" stroke-linejoin="round" stroke-linecap="round"/>
<g fill="#4472c4"><circle cx="288.6" cy="2044.1" r="9.9"/><circle cx="303.6" cy="2044.8" r="9.9"/><circle cx="317.1" cy="2047.0" r="9.9"/><circle cx="329.9" cy="2036.9" r="9.9"/><circle cx="347.9" cy="2033.1" r="9.9"/><circle cx="367.7" cy="2036.9" r="9.9"/><circle cx="385.9" cy="2008.2" r="9.9"/><circle cx="419.8" cy="2029.8" r="9.9"/><circle cx="441.7" cy="2028.0" r="9.9"/><circle cx="464.7" cy="2018.6" r="9.9"/><circle cx="492.6" cy="2018.6" r="9.9"/><circle cx="520.7" cy="1999.1" r="9.9"/><circle cx="559.6" cy="1978.0" r="9.9"/><circle cx="610.5" cy="1969.7" r="9.9"/><circle cx="665.6" cy="1981.3" r="9.9"/><circle cx="714.5" cy="1974.2" r="9.9"/><circle cx="767.3" cy="1953.3" r="9.9"/><circle cx="831.5" cy="1946.3" r="9.9"/><circle cx="899.9" cy="1948.3" r="9.9"/><circle cx="967.4" cy="1941.3" r="9.9"/><circle cx="1038.2" cy="1928.5" r="9.9"/><circle cx="1116.2" cy="1930.0" r="9.9"/><circle cx="1193.5" cy="1924.7" r="9.9"/><circle cx="1274.1" cy="1972.3" r="9.9"/><circle cx="1328.0" cy="2069.0" r="9.9"/></g>
<g fill="#ed7d31"><circle cx="464.7" cy="2045.5" r="9.9"/><circle cx="492.6" cy="2033.7" r="9.9"/><circle cx="520.7" cy="2029.4" r="9.9"/><circle cx="559.6" cy="2008.7" r="9.9"/><circle cx="610.5" cy="1999.5" r="9.9"/><circle cx="665.6" cy="1963.2" r="9.9"/><circle cx="714.5" cy="1964.3" r="9.9"/><circle cx="767.3" cy="1934.3" r="9.9"/><circle cx="831.5" cy="1934.5" r="9.9"/><circle cx="899.9" cy="1930.9" r="9.9"/><circle cx="967.4" cy="1911.7" r="9.9"/><circle cx="1038.2" cy="1896.7" r="9.9"/><circle cx="1116.2" cy="1859.9" r="9.9"/><circle cx="1193.5" cy="1842.5" r="9.9"/><circle cx="1274.1" cy="1840.6" r="9.9"/><circle cx="1328.0" cy="2069.0" r="9.9"/></g>
<g fill="#a5a5a5"><circle cx="559.6" cy="2051.3" r="9.9"/><circle cx="610.5" cy="2027.4" r="9.9"/><circle cx="665.6" cy="2011.5" r="9.9"/><circle cx="714.5" cy="1988.6" r="9.9"/><circle cx="767.3" cy="1961.1" r="9.9"/><circle cx="831.5" cy="1935.7" r="9.9"/><circle cx="899.9" cy="1916.5" r="9.9"/><circle cx="967.4" cy="1897.6" r="9.9"/><circle cx="1038.2" cy="1875.2" r="9.9"/><circle cx="1116.2" cy="1841.5" r="9.9"/><circle cx="1193.5" cy="1777.6" r="9.9"/><circle cx="1274.0" cy="1642.5" r="9.9"/><circle cx="1328.0" cy="2069.0" r="9.9"/></g>
<text transform="translate(182.8,2079.4) scale(1,1.05)" text-anchor="end" font-size="32.5">0</text>
<text transform="translate(182.8,2012.4) scale(1,1.05)" text-anchor="end" font-size="32.5">0.01</text>
<text transform="translate(182.8,1945.4) scale(1,1.05)" text-anchor="end" font-size="32.5">0.02</text>
<text transform="translate(182.8,1878.4) scale(1,1.05)" text-anchor="end" font-size="32.5">0.03</text>
<text transform="translate(182.8,1811.4) scale(1,1.05)" text-anchor="end" font-size="32.5">0.04</text>
<text transform="translate(182.8,1744.4) scale(1,1.05)" text-anchor="end" font-size="32.5">0.05</text>
<text transform="translate(182.8,1677.4) scale(1,1.05)" text-anchor="end" font-size="32.5">0.06</text>
<text transform="translate(182.8,1610.4) scale(1,1.05)" text-anchor="end" font-size="32.5">0.07</text>
<text transform="translate(182.8,1543.4) scale(1,1.05)" text-anchor="end" font-size="32.5">0.08</text>
<text transform="translate(213.5,2125.0) scale(1,1.05)" text-anchor="middle" font-size="32.5">0</text>
<text transform="translate(281.5,2125.0) scale(1,1.05)" text-anchor="middle" font-size="32.5">5</text>
<text transform="translate(349.4,2125.0) scale(1,1.05)" text-anchor="middle" font-size="32.5">10</text>
<text transform="translate(417.4,2125.0) scale(1,1.05)" text-anchor="middle" font-size="32.5">15</text>
<text transform="translate(485.4,2125.0) scale(1,1.05)" text-anchor="middle" font-size="32.5">20</text>
<text transform="translate(553.4,2125.0) scale(1,1.05)" text-anchor="middle" font-size="32.5">25</text>
<text transform="translate(621.3,2125.0) scale(1,1.05)" text-anchor="middle" font-size="32.5">30</text>
<text transform="translate(689.3,2125.0) scale(1,1.05)" text-anchor="middle" font-size="32.5">35</text>
<text transform="translate(757.3,2125.0) scale(1,1.05)" text-anchor="middle" font-size="32.5">40</text>
<text transform="translate(825.2,2125.0) scale(1,1.05)" text-anchor="middle" font-size="32.5">45</text>
<text transform="translate(893.2,2125.0) scale(1,1.05)" text-anchor="middle" font-size="32.5">50</text>
<text transform="translate(961.2,2125.0) scale(1,1.05)" text-anchor="middle" font-size="32.5">55</text>
<text transform="translate(1029.1,2125.0) scale(1,1.05)" text-anchor="middle" font-size="32.5">60</text>
<text transform="translate(1097.1,2125.0) scale(1,1.05)" text-anchor="middle" font-size="32.5">65</text>
<text transform="translate(1165.1,2125.0) scale(1,1.05)" text-anchor="middle" font-size="32.5">70</text>
<text transform="translate(1233.1,2125.0) scale(1,1.05)" text-anchor="middle" font-size="32.5">75</text>
<text transform="translate(1301.0,2125.0) scale(1,1.05)" text-anchor="middle" font-size="32.5">80</text>
<text transform="translate(1369.0,2125.0) scale(1,1.05)" text-anchor="middle" font-size="32.5">85</text>
<text x="403.1" y="2185.3" font-size="38">Moisture content (% w.b)</text>
<text transform="translate(73.0,2094.6) rotate(-90)" font-size="38">DR [(g water/g dry matter)/ min]</text>
<path d="M295.5,1607.1H361.1" stroke="#000" stroke-width="2.7" stroke-linecap="round"/>
<circle cx="328.1" cy="1607.4" r="9.9" fill="#4472c4"/>
<text x="367.8" y="1616.7" font-size="32">90 °C- 120 g</text>
<path d="M295.5,1660.1H361.1" stroke="#000" stroke-width="2.7" stroke-linecap="round"/>
<circle cx="328.1" cy="1660.4" r="9.9" fill="#ed7d31"/>
<text x="367.8" y="1669.7" font-size="32">90 °C- 90 g</text>
<path d="M295.5,1713.5H361.1" stroke="#000" stroke-width="2.7" stroke-linecap="round"/>
<circle cx="328.1" cy="1713.8" r="9.9" fill="#a5a5a5"/>
<text x="367.8" y="1723.1" font-size="32">90 °C- 60 g</text>
</svg>
</body></html>
